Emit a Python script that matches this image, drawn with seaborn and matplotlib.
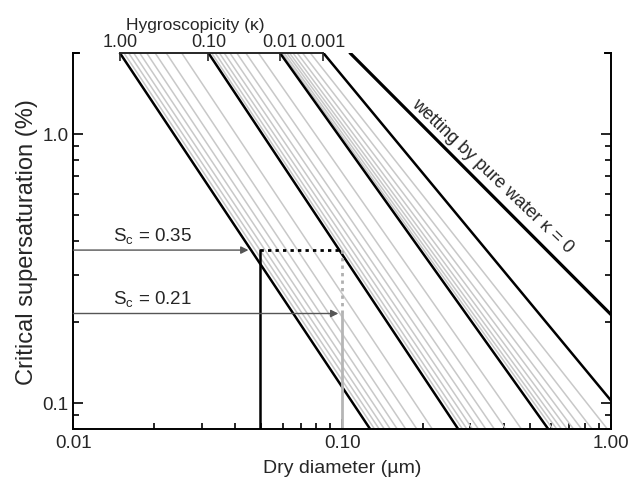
import matplotlib
matplotlib.use("Agg")
import matplotlib.pyplot as plt
import seaborn as sns
from matplotlib.ticker import LogLocator, FixedLocator, FixedFormatter, NullFormatter

# Hygroscopicity labels on the top axis, placed at the dry diameter where
# each black kappa line meets the top of the plot (Sc = 2 %)
kappa_labels = ["1.00", "0.10", "0.01", "0.001"]
kappa_top_d = [0.0149, 0.0318, 0.0587, 0.0851]

# black kappa lines (1, 0.1, 0.01, 0.001): start at Sc = 2 %, end point
black_top_d = [0.0149, 0.0318, 0.0587, 0.0851]
black_end_d = [0.127, 0.270, 0.584, 1.00]
black_end_sc = [0.08, 0.08, 0.08, 0.102]

# grey intermediate kappa lines (0.9..0.2, 0.09..0.02, 0.009..0.002)
grey_top_d = [0.01543, 0.01606, 0.01677, 0.01765, 0.01874, 0.02015, 0.02216, 0.02530,
              0.03267, 0.03370, 0.03494, 0.03641, 0.03823, 0.04055, 0.04381, 0.04882,
              0.0597, 0.0608, 0.0622, 0.0637, 0.0656, 0.0680, 0.0712, 0.0761]
grey_end_d = [0.1319, 0.1373, 0.1434, 0.1509, 0.1602, 0.1723, 0.1895, 0.2163,
              0.280, 0.291, 0.305, 0.321, 0.342, 0.368, 0.406, 0.464,
              0.607, 0.628, 0.654, 0.686, 0.725, 0.777, 0.850, 0.969]

# kappa = 0 (wetting by pure water)
wet_d = [0.107, 1.0]
wet_sc = [2.0, 0.213]

# example thresholds (labels as printed, guide levels as drawn)
sc_labels = ["0.35", "0.21"]
sc_levels = [0.37, 0.215]
d_values = [0.0494, 0.10]
arrow_tips = [0.0448, 0.0968]

sc_top = 2.0
sc_bottom = 0.08

sns.set_style("ticks")
plt.rcParams["font.family"] = ["Liberation Sans", "DejaVu Sans"]

fig = plt.figure(figsize=(6.36, 4.89), dpi=100)
ax = fig.add_axes([0.1153, 0.1207, 0.8454, 0.7689])
ax.set_xscale("log")
ax.set_yscale("log")

grey = "#c8c8c8"
for d0, d1 in zip(grey_top_d, grey_end_d):
    sns.lineplot(x=[d0, d1], y=[sc_top, sc_bottom], color=grey, lw=1.1, ax=ax)
for d0, d1, s1 in zip(black_top_d, black_end_d, black_end_sc):
    sns.lineplot(x=[d0, d1], y=[sc_top, s1], color="black", lw=1.8, ax=ax)
sns.lineplot(x=wet_d, y=wet_sc, color="black", lw=2.3, ax=ax)

# threshold guides
sns.lineplot(x=[d_values[0], d_values[0]], y=[sc_bottom, sc_levels[0]],
             color="black", lw=1.8, estimator=None, sort=False, ax=ax)
ax.plot([d_values[0], d_values[1]], [sc_levels[0], sc_levels[0]],
        color="black", lw=2, ls=(0, (1.2, 1.5)))
ax.plot([d_values[1], d_values[1]], [sc_levels[0], sc_levels[1]],
        color="#b0b0b0", lw=2, ls=(0, (1.2, 1.5)))
sns.lineplot(x=[d_values[1], d_values[1]], y=[sc_bottom, sc_levels[1]],
             color="#b5b5b5", lw=2, estimator=None, sort=False, ax=ax)

for sc, lab, tip in zip(sc_levels, sc_labels, arrow_tips):
    ax.annotate("", xy=(tip, sc), xytext=(0.01, sc),
                arrowprops=dict(arrowstyle="-|>", color="#555555", lw=1.0,
                                mutation_scale=11, shrinkA=0, shrinkB=0))
    ax.text(0.01405, sc * 1.04, "S$_\\mathregular{c}$ = " + lab, fontsize=13.5,
            ha="left", va="bottom")

ax.text(0.36, 0.70, "wetting by pure water \u03ba = 0", rotation=-43.5,
        rotation_mode="anchor", ha="center", va="center", fontsize=13)

ax.set_xlim(0.01, 1.0)
ax.set_ylim(sc_bottom, sc_top)

ax.xaxis.set_major_locator(FixedLocator([0.01, 0.1, 1.0]))
ax.xaxis.set_major_formatter(FixedFormatter(["0.01", "0.10", "1.00"]))
ax.xaxis.set_minor_locator(LogLocator(base=10, subs=range(2, 10)))
ax.xaxis.set_minor_formatter(NullFormatter())
ax.yaxis.set_major_locator(FixedLocator([0.1, 1.0]))
ax.yaxis.set_major_formatter(FixedFormatter(["0.1", "1.0"]))
ax.yaxis.set_minor_locator(LogLocator(base=10, subs=range(2, 10)))
ax.yaxis.set_minor_formatter(NullFormatter())
ax.tick_params(which="both", direction="in", right=True, top=False, width=1.2,
               labelsize=13.5, color="black")
ax.tick_params(which="major", length=7)
ax.tick_params(which="minor", length=4)
for s in ["left", "right", "bottom"]:
    ax.spines[s].set_linewidth(1.4)
    ax.spines[s].set_color("black")
ax.spines["top"].set_visible(False)

# small corner stubs of the top frame
ax.plot([0, 0.011], [1, 1], transform=ax.transAxes, color="black", lw=1.4,
        clip_on=False, solid_capstyle="projecting")
ax.plot([0.989, 1], [1, 1], transform=ax.transAxes, color="black", lw=1.4,
        clip_on=False, solid_capstyle="projecting")

ax.set_xlabel("Dry diameter (\u00b5m)", fontsize=14, labelpad=6)
ax.set_ylabel("Critical supersaturation (%)", fontsize=17, labelpad=3)

# top hygroscopicity axis, only over the kappa range
ax2 = ax.twiny()
ax2.set_xscale("log")
ax2.set_xlim(ax.get_xlim())
ax2.set_xticks(kappa_top_d)
ax2.set_xticklabels(kappa_labels)
ax2.xaxis.set_minor_locator(FixedLocator([]))
ax2.tick_params(axis="x", direction="in", length=6, width=1.2, labelsize=13, pad=2)
ax2.spines["top"].set_bounds(kappa_top_d[0], kappa_top_d[-1])
ax2.spines["top"].set_linewidth(1.4)
for s in ["left", "right", "bottom"]:
    ax2.spines[s].set_visible(False)
ax2.set_xlabel("Hygroscopicity (\u03ba)", fontsize=12.5, labelpad=3)
ax2.xaxis.label.set_x(0.226)

fig.savefig("out.png", dpi=100)
